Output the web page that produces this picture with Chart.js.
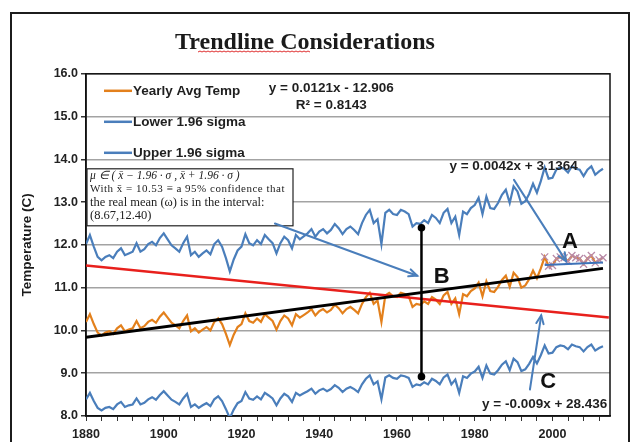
<!DOCTYPE html>
<html>
<head>
<meta charset="utf-8">
<script src="https://cdn.jsdelivr.net/npm/chart.js@4/dist/chart.umd.min.js"></script>
<style>
  html, body { margin: 0; padding: 0; background: #ffffff; }
  canvas { display: block; }
</style>
</head>
<body>
<canvas id="chart" width="632" height="442"></canvas>
<script>
// Yearly average temperature (°C), 1880 onwards, with the 1.96-sigma band around it
const firstYear = 1880;
const avgTemp = [
  10.20, 10.38, 10.15, 9.95, 9.88, 9.95, 9.98, 9.92, 10.05, 10.12,
  9.98, 10.02, 10.05, 10.22, 10.05, 10.10, 10.20, 10.25, 10.18, 10.32,
  10.42, 10.30, 10.18, 10.12, 10.05, 10.22, 10.35, 9.98, 10.05, 9.95,
  10.02, 10.08, 10.00, 10.20, 10.28, 10.15, 9.92, 9.66, 9.90, 10.08,
  10.15, 10.40, 10.22, 10.18, 10.28, 10.20, 10.38, 10.30, 10.22, 10.02,
  10.22, 10.35, 10.28, 10.12, 10.38, 10.30, 10.36, 10.42, 10.50, 10.35,
  10.45, 10.50, 10.42, 10.48, 10.60, 10.52, 10.40, 10.50, 10.55, 10.48,
  10.40, 10.62, 10.78, 10.88, 10.62, 10.70, 10.20, 10.82, 10.88, 10.80,
  10.78, 10.88, 10.85, 10.80, 10.55, 10.62, 10.60, 10.68, 10.62, 10.78,
  10.72, 10.62, 10.82, 10.90, 10.62, 10.75, 10.38, 10.85, 10.80, 10.92,
  10.98, 11.12, 10.80, 11.15, 10.92, 10.90, 11.02, 11.18, 11.28, 11.02,
  11.35, 11.25, 11.00, 11.05, 11.20, 11.40, 11.22, 11.45, 11.72, 11.50,
  11.52, 11.68, 11.72, 11.70, 11.62, 11.75, 11.70, 11.68, 11.55, 11.68,
  11.75, 11.58, 11.65, 11.70
];
const lowerSigma = [
  8.39, 8.54, 8.35, 8.19, 8.13, 8.19, 8.21, 8.16, 8.27, 8.33,
  8.21, 8.25, 8.27, 8.41, 8.27, 8.31, 8.39, 8.44, 8.38, 8.49,
  8.58, 8.48, 8.38, 8.33, 8.27, 8.41, 8.52, 8.21, 8.27, 8.19,
  8.25, 8.30, 8.23, 8.39, 8.46, 8.35, 8.16, 7.95, 8.15, 8.30,
  8.35, 8.56, 8.41, 8.38, 8.46, 8.39, 8.54, 8.48, 8.41, 8.25,
  8.41, 8.52, 8.46, 8.33, 8.54, 8.48, 8.53, 8.58, 8.64, 8.52,
  8.60, 8.64, 8.58, 8.63, 8.72, 8.66, 8.56, 8.64, 8.68, 8.63,
  8.56, 8.74, 8.87, 8.95, 8.74, 8.81, 8.39, 8.90, 8.95, 8.89,
  8.87, 8.95, 8.93, 8.89, 8.68, 8.74, 8.72, 8.79, 8.74, 8.87,
  8.82, 8.74, 8.90, 8.97, 8.74, 8.85, 8.54, 8.93, 8.89, 8.99,
  9.04, 9.15, 8.89, 9.18, 8.99, 8.97, 9.07, 9.20, 9.28, 9.07,
  9.34, 9.26, 9.05, 9.09, 9.22, 9.38, 9.23, 9.42, 9.65, 9.46,
  9.48, 9.61, 9.65, 9.63, 9.56, 9.67, 9.63, 9.61, 9.51, 9.61,
  9.67, 9.53, 9.59, 9.63
];
const upperSigma = [
  12.02, 12.23, 11.96, 11.72, 11.64, 11.72, 11.76, 11.69, 11.84, 11.92,
  11.76, 11.80, 11.84, 12.04, 11.84, 11.90, 12.02, 12.07, 11.99, 12.16,
  12.27, 12.13, 11.99, 11.92, 11.84, 12.04, 12.19, 11.76, 11.84, 11.72,
  11.80, 11.87, 11.78, 12.02, 12.11, 11.96, 11.69, 11.38, 11.66, 11.87,
  11.96, 12.25, 12.04, 11.99, 12.11, 12.02, 12.23, 12.13, 12.04, 11.80,
  12.04, 12.19, 12.11, 11.92, 12.23, 12.13, 12.20, 12.27, 12.37, 12.19,
  12.31, 12.37, 12.27, 12.35, 12.49, 12.39, 12.25, 12.37, 12.43, 12.35,
  12.25, 12.51, 12.70, 12.82, 12.51, 12.60, 12.02, 12.75, 12.82, 12.72,
  12.70, 12.82, 12.78, 12.72, 12.43, 12.51, 12.49, 12.58, 12.51, 12.70,
  12.63, 12.51, 12.75, 12.84, 12.51, 12.66, 12.23, 12.78, 12.72, 12.86,
  12.93, 13.10, 12.72, 13.13, 12.86, 12.84, 12.98, 13.17, 13.29, 12.98,
  13.37, 13.25, 12.96, 13.02, 13.19, 13.43, 13.22, 13.49, 13.81, 13.55,
  13.57, 13.76, 13.81, 13.78, 13.69, 13.84, 13.78, 13.76, 13.61, 13.76,
  13.84, 13.64, 13.72, 13.78
];
const years = avgTemp.map((_, i) => firstYear + i);

// Axis ticks
const tempTicks = [8, 9, 10, 11, 12, 13, 14, 15, 16];
const yearLabels = [1880, 1900, 1920, 1940, 1960, 1980, 2000];
const yearTickStep = 4;
const yearRange = [1880, 2014.8];

// Linear fits: [slope, intercept], and the years each one spans
const fitAll = [0.0121, -12.906];
const fitAllYears = [1880, 2013];
const fitAllR2 = 0.8143;
const fitRecent = [0.0042, 3.1364];
const fitRecentYears = [1998, 2013];
const fitFalling = [-0.009, 28.436];
const fitFallingYears = [1880, 2014.5];

// Confidence interval note
const meanTemp = 10.53;
const interval = [8.67, 12.40];
const spanYear = 1966.3;
const spanTemps = [12.40, 8.92];

// Call-outs (year, temperature)
const arrowPaths = [
  [[1928.6, 12.50], [1965.2, 11.28]],
  [[1990.1, 13.52], [2003.5, 11.62]],
  [[1994.2, 8.62], [1997.1, 10.35]]
];
const letterTags = [['A', 2004.5, 12.07], ['B', 1971.5, 11.26], ['C', 1998.9, 8.80]];
const fitLabelSpots = [[1943.1, 15.65], [1943.1, 15.27], [1990.0, 13.83], [1998.0, 8.27]];

const fitText = ([m, b]) => 'y = ' + m + 'x ' + (b < 0 ? '- ' : '+ ') + Math.abs(b);
const fitLine = ([m, b], [x0, x1]) => [x0, x1].map(x => ({ x, y: m * x + b }));
const series = vals => years.map((x, i) => ({ x, y: vals[i] }));

const SANS = '"Liberation Sans", Arial, sans-serif';
const SERIF = '"Liberation Serif", "Times New Roman", serif';

function drawArrow(ctx, a, b) {
  ctx.beginPath();
  ctx.moveTo(a.x, a.y);
  ctx.lineTo(b.x, b.y);
  ctx.stroke();
  const ang = Math.atan2(b.y - a.y, b.x - a.x);
  const len = 9, spread = 0.42;
  ctx.beginPath();
  ctx.moveTo(b.x - len * Math.cos(ang - spread), b.y - len * Math.sin(ang - spread));
  ctx.lineTo(b.x, b.y);
  ctx.lineTo(b.x - len * Math.cos(ang + spread), b.y - len * Math.sin(ang + spread));
  ctx.stroke();
}

// Page background and outer frame
const framePlugin = {
  id: 'frame',
  beforeDraw(chart) {
    const ctx = chart.ctx;
    ctx.save();
    ctx.fillStyle = '#ffffff';
    ctx.fillRect(0, 0, chart.width, chart.height);
    ctx.strokeStyle = '#1c1c1c';
    ctx.lineWidth = 2;
    ctx.strokeRect(11, 13, 618, 440);
    ctx.restore();
  }
};

// Black border round the plot area
const plotBorderPlugin = {
  id: 'plotBorder',
  beforeDatasetsDraw(chart) {
    const { ctx, chartArea: a } = chart;
    ctx.save();
    ctx.strokeStyle = '#111111';
    ctx.lineWidth = 1.5;
    ctx.strokeRect(a.left, a.top, a.right - a.left, a.bottom - a.top);
    ctx.restore();
  }
};

// Legend, fit equations, interval note, arrows and letters
const notesPlugin = {
  id: 'notes',
  afterDatasetsDraw(chart) {
    const { ctx, chartArea: a, scales } = chart;
    const P = (x, y) => ({ x: scales.x.getPixelForValue(x), y: scales.y.getPixelForValue(y) });
    ctx.save();

    // spell-check underline under the first title word
    ctx.strokeStyle = '#e03030';
    ctx.lineWidth = 1;
    ctx.beginPath();
    for (let x = 198; x <= 311; x += 2) {
      const y = 51 + ((x / 2) % 2 ? 1 : 0);
      if (x === 198) ctx.moveTo(x, y); else ctx.lineTo(x, y);
    }
    ctx.stroke();

    // legend
    ctx.font = 'bold 13.5px ' + SANS;
    ctx.textBaseline = 'middle';
    ctx.textAlign = 'left';
    chart.data.datasets.slice(0, 3).forEach((ds, i) => {
      const y = a.top + 17 + i * 31;
      ctx.strokeStyle = ds.borderColor;
      ctx.lineWidth = 2.5;
      ctx.beginPath();
      ctx.moveTo(a.left + 18, y);
      ctx.lineTo(a.left + 46, y);
      ctx.stroke();
      ctx.fillStyle = '#1f1f1f';
      ctx.fillText(ds.label, a.left + 47, y);
    });

    // fit equations
    const fitTexts = [fitText(fitAll), 'R\u00b2 = ' + fitAllR2, fitText(fitRecent), fitText(fitFalling)];
    ctx.textAlign = 'center';
    fitTexts.forEach((t, i) => {
      const p = P(fitLabelSpots[i][0], fitLabelSpots[i][1]);
      ctx.fillStyle = '#1f1f1f';
      ctx.fillText(t, p.x, p.y);
    });

    // interval note box
    const bx = a.left + 1, by = a.top + 95, bw = 206, bh = 57;
    ctx.fillStyle = '#ffffff';
    ctx.fillRect(bx, by, bw, bh);
    ctx.strokeStyle = '#222222';
    ctx.lineWidth = 1.2;
    ctx.strokeRect(bx, by, bw, bh);
    ctx.fillStyle = '#222222';
    ctx.textAlign = 'left';
    const xbar = 'x\u0304';
    ctx.font = 'italic 11.5px ' + SERIF;
    ctx.fillText('\u03bc \u2208 ( ' + xbar + ' \u2212 1.96 \u00b7 \u03c3 , ' + xbar + ' + 1.96 \u00b7 \u03c3 )', bx + 3, by + 7);
    ctx.font = '11px ' + SERIF;
    ctx.letterSpacing = '0.5px';
    ctx.fillText('With ' + xbar + ' = ' + meanTemp + ' \u2261 a 95% confidence that', bx + 3, by + 20);
    ctx.letterSpacing = '0px';
    ctx.font = '12.5px ' + SERIF;
    ctx.fillText('the real mean (\u03c9) is in the interval:', bx + 3, by + 34);
    ctx.fillText('(' + interval[0].toFixed(2) + ',' + interval[1].toFixed(2) + ')', bx + 3, by + 47);

    // vertical span with end dots
    const top = P(spanYear, spanTemps[0]), bot = P(spanYear, spanTemps[1]);
    ctx.strokeStyle = '#000000';
    ctx.lineWidth = 2.5;
    ctx.beginPath();
    ctx.moveTo(top.x, top.y);
    ctx.lineTo(bot.x, bot.y);
    ctx.stroke();
    ctx.fillStyle = '#000000';
    [top, bot].forEach(p => { ctx.beginPath(); ctx.arc(p.x, p.y, 3.8, 0, Math.PI * 2); ctx.fill(); });

    // arrows
    ctx.strokeStyle = '#4a7ebb';
    ctx.lineWidth = 2;
    ctx.lineCap = 'round';
    arrowPaths.forEach(([s, e]) => drawArrow(ctx, P(s[0], s[1]), P(e[0], e[1])));

    // letters
    ctx.font = 'bold 22px ' + SANS;
    ctx.textAlign = 'center';
    ctx.fillStyle = '#111111';
    letterTags.forEach(([t, x, y]) => { const p = P(x, y); ctx.fillText(t, p.x, p.y); });

    ctx.restore();
  }
};

new Chart(document.getElementById('chart'), {
  type: 'line',
  data: {
    datasets: [
      {
        label: 'Yearly Avg Temp', data: series(avgTemp), order: 3,
        borderColor: '#e3801c', borderWidth: 2.2,
        pointStyle: 'crossRot',
        pointRadius: c => (c.raw && c.raw.x >= fitRecentYears[0] ? 5 : 0),
        pointBorderColor: '#b98aa8', pointBorderWidth: 1.3, pointBackgroundColor: '#b98aa8'
      },
      { label: 'Lower 1.96 sigma', data: series(lowerSigma), order: 4, borderColor: '#4a7ebb', borderWidth: 2.2, pointRadius: 0 },
      { label: 'Upper 1.96 sigma', data: series(upperSigma), order: 5, borderColor: '#4a7ebb', borderWidth: 2.2, pointRadius: 0 },
      { label: 'Linear (Yearly Avg Temp)', data: fitLine(fitAll, fitAllYears), order: 1, borderColor: '#000000', borderWidth: 3, pointRadius: 0 },
      { label: 'Falling line', data: fitLine(fitFalling, fitFallingYears), order: 2, borderColor: '#e8201c', borderWidth: 2.5, pointRadius: 0 },
      { label: 'Linear (recent years)', data: fitLine(fitRecent, fitRecentYears), order: 0, borderColor: '#3d72b8', borderWidth: 2, pointRadius: 0 }
    ]
  },
  options: {
    responsive: false,
    devicePixelRatio: 1,
    animation: false,
    events: [],
    elements: { line: { tension: 0 } },
    layout: { padding: { left: 0, right: 22, top: 0, bottom: 0 } },
    plugins: {
      legend: { display: false },
      tooltip: { enabled: false },
      title: {
        display: true,
        text: 'Trendline Considerations',
        color: '#1a1a1a',
        font: { family: SERIF, size: 24, weight: 'bold' },
        padding: { top: 28, bottom: 17 }
      }
    },
    scales: {
      x: {
        type: 'linear',
        min: yearRange[0], max: yearRange[1],
        afterFit: s => { s.height = 26; },
        afterBuildTicks: s => {
          const t = [];
          for (let y = yearRange[0]; y <= yearRange[1]; y += yearTickStep) t.push({ value: y });
          s.ticks = t;
        },
        grid: { display: true, drawOnChartArea: false, tickLength: 5, color: '#333333', lineWidth: 1 },
        border: { display: true, color: '#111111', width: 1.5 },
        ticks: {
          autoSkip: false, maxRotation: 0, padding: 6,
          color: '#222222', font: { family: SANS, size: 12.5, weight: 'bold' },
          callback: v => (yearLabels.includes(v) ? String(v) : '')
        }
      },
      y: {
        min: tempTicks[0], max: tempTicks[tempTicks.length - 1],
        afterFit: s => { s.width = 86; },
        afterBuildTicks: s => { s.ticks = tempTicks.map(v => ({ value: v })); },
        grid: { color: '#a3a3a3', lineWidth: 1.5, tickLength: 5, tickColor: '#333333' },
        border: { display: true, color: '#111111', width: 1.5 },
        ticks: {
          padding: 3, color: '#222222',
          font: { family: SANS, size: 12.5, weight: 'bold' },
          callback: v => Number(v).toFixed(1)
        },
        title: {
          display: true, text: 'Temperature (C)', color: '#1a1a1a',
          font: { family: SANS, size: 13.5, weight: 'bold' },
          padding: { top: 19, bottom: 0 }
        }
      }
    }
  },
  plugins: [framePlugin, plotBorderPlugin, notesPlugin]
});
</script>
</body>
</html>
